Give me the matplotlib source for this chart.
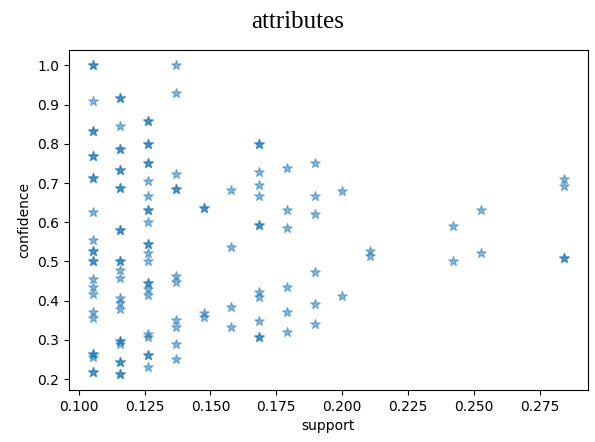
import matplotlib
matplotlib.use("Agg")
import matplotlib.pyplot as plt

# support levels (columns of stars) and the confidences read in each column.
# a darker star in the picture = two rules lying on top of each other, so it is listed twice
support_levels = [0.1053, 0.1158, 0.1263, 0.1368, 0.1474, 0.1579, 0.1684,
                  0.1789, 0.1895, 0.2000, 0.2105, 0.2421, 0.2526, 0.2842]

conf_0105 = [1.0, 1.0, 0.909, 0.833, 0.833, 0.769, 0.769, 0.714, 0.714, 0.625,
             0.556, 0.526, 0.526, 0.5, 0.5, 0.455, 0.435, 0.417, 0.370, 0.357,
             0.263, 0.263, 0.256, 0.217, 0.217]
conf_0116 = [0.917, 0.917, 0.846, 0.786, 0.786, 0.733, 0.733, 0.688, 0.688, 0.579,
             0.579, 0.5, 0.5, 0.478, 0.458, 0.407, 0.393, 0.379, 0.297, 0.297,
             0.289, 0.244, 0.244, 0.212, 0.212]
conf_0126 = [0.857, 0.857, 0.8, 0.8, 0.75, 0.75, 0.706, 0.667, 0.632, 0.632,
             0.6, 0.545, 0.545, 0.522, 0.5, 0.444, 0.444, 0.429, 0.414, 0.316,
             0.308, 0.261, 0.261, 0.231]
conf_0137 = [1.0, 0.929, 0.722, 0.684, 0.684, 0.464, 0.448, 0.351, 0.333, 0.289, 0.25]
conf_0147 = [0.636, 0.636, 0.368, 0.359]
conf_0158 = [0.682, 0.536, 0.385, 0.333]
conf_0168 = [0.8, 0.8, 0.727, 0.696, 0.667, 0.593, 0.593, 0.421, 0.410, 0.348,
             0.308, 0.308]
conf_0179 = [0.739, 0.630, 0.586, 0.436, 0.370, 0.321]
conf_0189 = [0.75, 0.667, 0.621, 0.474, 0.391, 0.340]
conf_0200 = [0.679, 0.413]
conf_0211 = [0.526, 0.513]
conf_0242 = [0.590, 0.5]
conf_0253 = [0.632, 0.522]
conf_0284 = [0.711, 0.692, 0.509, 0.509]

columns = [conf_0105, conf_0116, conf_0126, conf_0137, conf_0147, conf_0158, conf_0168,
           conf_0179, conf_0189, conf_0200, conf_0211, conf_0242, conf_0253, conf_0284]

support = []
confidence = []
for s, confs in zip(support_levels, columns):
    support += [s] * len(confs)
    confidence += confs

fig = plt.figure(figsize=(5.95, 4.42), dpi=100)
ax = fig.add_axes([0.116, 0.118, 0.872, 0.769])
ax.scatter(support, confidence, marker="*", s=50, alpha=0.5)
ax.set_xlabel("support")
ax.set_ylabel("confidence")
fig.suptitle("attributes", family="Liberation Serif", fontsize=18, x=0.5, y=0.975)

fig.savefig("out.png")
